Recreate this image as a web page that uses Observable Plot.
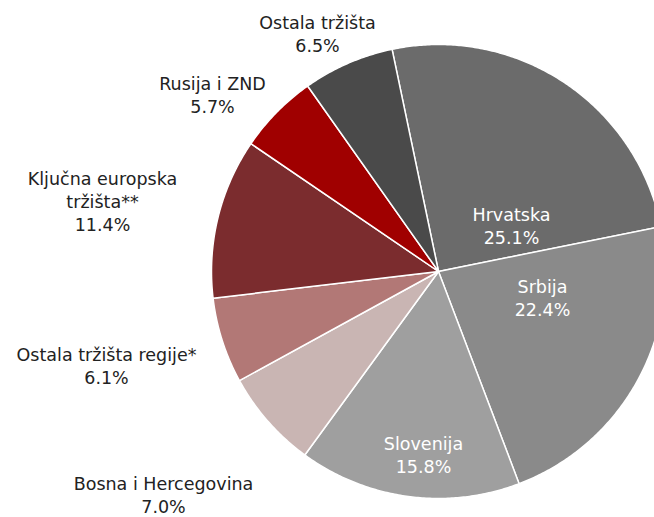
<!DOCTYPE html>
<html>
<head>
<meta charset="utf-8">
<script src="https://cdn.jsdelivr.net/npm/d3@7"></script>
<script src="https://cdn.jsdelivr.net/npm/@observablehq/plot@0.6"></script>
<style>
  html, body { margin: 0; padding: 0; background: #fff; overflow: hidden; }
</style>
</head>
<body>
<div id="chart"></div>
<script>
// ---- data ----
const markets = ["Hrvatska", "Srbija", "Slovenija", "Bosna i Hercegovina", "Ostala tržišta regije*", "Ključna europska\ntržišta**", "Rusija i ZND", "Ostala tržišta"];
const shares = [25.1, 22.4, 15.8, 7.0, 6.1, 11.4, 5.7, 6.5];

// ---- styles / layout ----
const colors = ["#6b6b6b", "#8a8a8a", "#9f9f9f", "#c9b5b3", "#b27876", "#7b2c2e", "#a00000", "#4a4a4a"];
const labelColors = ["#fff", "#fff", "#fff", "#222", "#222", "#222", "#222", "#222"];
// label block centres relative to pie centre, in pixels (right, down)
const labelOffsets = [[73, -46], [104, 26], [-15, 183], [-275, 223], [-332, 94], [-336, -71], [-226, -177], [-121, -238]];

const W = 654, H = 517;
const cx = 438, cy = 271, R = 227;
const startDeg = -11.8;

const total = d3.sum(shares);
let acc = startDeg * Math.PI / 180;
const slices = shares.map((v, i) => {
  const a0 = acc, a1 = acc + v / total * 2 * Math.PI;
  acc = a1;
  const pts = [{x: 0, y: 0}];
  const n = Math.max(8, Math.ceil((a1 - a0) / (Math.PI / 360)));
  for (let k = 0; k <= n; k++) {
    const a = a0 + (a1 - a0) * k / n;
    pts.push({x: Math.sin(a), y: Math.cos(a)});
  }
  pts.push({x: 0, y: 0});
  return {name: markets[i], value: v, pts, color: colors[i]};
});

const labels = slices.map((s, i) => ({
  x: labelOffsets[i][0] / R,
  y: -labelOffsets[i][1] / R,
  text: s.name + "\n" + s.value.toFixed(1) + "%",
  color: labelColors[i]
}));

const chart = Plot.plot({
  width: W,
  height: H,
  margin: 0,
  x: {domain: [-cx / R, (W - cx) / R], axis: null},
  y: {domain: [-(H - cy) / R, cy / R], axis: null},
  style: {fontFamily: "DejaVu Sans", background: "#fff"},
  marks: [
    ...slices.map(s => Plot.line(s.pts, {x: "x", y: "y", fill: s.color, stroke: "#fff", strokeWidth: 1.5, strokeLinejoin: "round"})),
    Plot.text(labels, {x: "x", y: "y", text: "text", fill: "color", fontSize: 17.5, lineHeight: 1.3, textAnchor: "middle", lineAnchor: "middle"})
  ]
});
document.getElementById("chart").appendChild(chart);
</script>
</body>
</html>
